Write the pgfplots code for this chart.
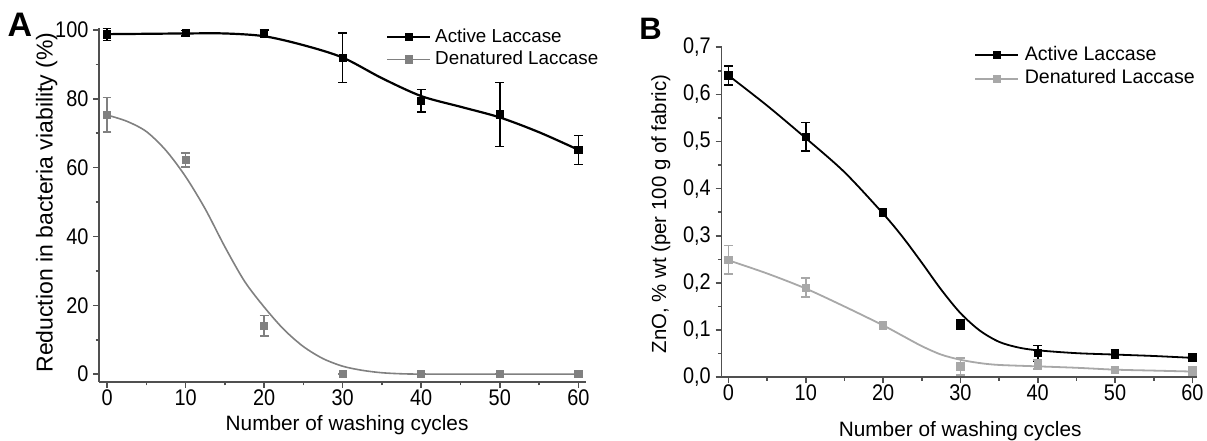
\documentclass[border=0pt]{standalone}
\usepackage{fontspec}
\setmainfont{Liberation Sans}
\newfontfamily\tickfont{Liberation Sans}[FakeStretch=0.88]
\usepackage{pgfplots}
\pgfplotsset{compat=1.18}

\definecolor{axgray}{HTML}{505050}
\definecolor{denA}{HTML}{808080}
\definecolor{denB}{HTML}{A8A8A8}

\pgfplotsset{
  washstyle/.style={
    scale only axis,
    axis lines=left,
    axis line style={-, draw=axgray, line width=0.9pt},
    tick style={draw=axgray, line width=0.8pt},
    tick align=outside,
    major tick length=3pt,
    minor tick length=1.8pt,
    xtick={0,10,20,30,40,50,60},
    minor x tick num=1,
    minor y tick num=1,
    tick label style={font=\tickfont\fontsize{11.3}{13}\selectfont, text=black},
    xticklabel style={inner sep=0.8pt},
    yticklabel style={inner sep=2.2pt},
    /pgf/number format/assume math mode=true,
    clip=false,
    legend cell align=left,
    legend image code/.code={\draw[mark repeat=2,mark phase=2,##1]
      plot coordinates {(0pt,0pt) (10.75pt,0pt) (21.5pt,0pt)};},
  },
  datapts/.style={only marks, mark=square*, mark size=1.8pt,
    error bars/.cd, y dir=both, y explicit,
    error bar style={line width=0.8pt},
    error mark options={rotate=90, mark size=2.2pt, line width=0.8pt}},
}

\begin{document}
\begin{tikzpicture}
\path[use as bounding box] (0,0) rectangle (603.5pt,220pt);

% ---------------- panel A
\begin{axis}[washstyle,
  at={(49.6pt,29.15pt)}, anchor=south west,
  width=243.5pt, height=176.7pt,
  xmin=-1.0, xmax=61.0, ymin=-2.2, ymax=100.5,
  ytick={0,20,40,60,80,100},
  xlabel={Number of washing cycles},
  xlabel style={at={(axis description cs:0.509,-0.1395)}, anchor=base,
    inner sep=0pt, font=\fontsize{10.4}{12}\selectfont},
  ylabel={Reduction in bacteria viability (\%)},
  ylabel style={at={(axis description cs:-0.0955,0.507)}, anchor=base,
    rotate=0, inner sep=0pt, font=\fontsize{11.5}{13}\selectfont},
  legend style={at={(axis description cs:0.589,1.004)}, anchor=north west,
    draw=none, fill=none, inner sep=0pt, row sep=1.1pt, column sep=2pt,
    font=\fontsize{9.4}{11}\selectfont,
    nodes={inner sep=0pt, text height=0.75em, text depth=0.25em}},
]
\addlegendimage{black, line width=0.9pt, mark=square*, mark size=1.6pt}
\addlegendentry{Active Laccase}
\addlegendimage{denA, line width=0.9pt, mark=square*, mark size=1.6pt}
\addlegendentry{Denatured Laccase}

% fitted curves
\addplot[forget plot, black, line width=1.1pt, smooth] coordinates {
  (0,98.8) (5,98.9) (10,99.0) (15,99.0) (20,98.2) (25,95.6) (30,92.0)
  (35,86.0) (40,80.8) (45,77.7) (50,74.6) (55,70.3) (60,65.2)};
\addplot[forget plot, denA, line width=0.8pt, smooth] coordinates {
  (0,75.3) (2.5,73.5) (5,70.5) (7.5,65.0) (10,57.4) (12.5,48.0) (15,37.0)
  (17.5,27.0) (20,19.5) (22.5,13.0) (25,8.0) (27.5,4.5) (30,2.3) (32.5,1.1)
  (35,0.4) (37.5,0.1) (40,0) (45,0) (50,0) (55,0) (60,0)};

% measured points
\addplot[forget plot, black, datapts] coordinates {
  (0,98.7) +- (0,1.8)
  (10,99.1) +- (0,0.8)
  (20,99.0) +- (0,1.0)
  (30,92.0) +- (0,7.2)
  (40,79.4) +- (0,3.3)
  (50,75.5) +- (0,9.3)
  (60,65.1) +- (0,4.2)};
\addplot[forget plot, denA, datapts] coordinates {
  (0,75.4) +- (0,5.0)
  (10,62.2) +- (0,2.0)
  (20,14.0) +- (0,3.0)
  (30,0) +- (0,0)
  (40,0) +- (0,0)
  (50,0) +- (0,0)
  (60,0) +- (0,0)};
\end{axis}

% ---------------- panel B
\begin{axis}[washstyle,
  at={(360.75pt,31.4pt)}, anchor=south west,
  width=237.75pt, height=165.25pt,
  xmin=-0.9, xmax=60.6, ymin=0, ymax=0.701,
  ytick={0,0.1,0.2,0.3,0.4,0.5,0.6,0.7},
  scaled y ticks=false,
  yticklabel style={/pgf/number format/fixed, /pgf/number format/fixed zerofill,
    /pgf/number format/precision=1, /pgf/number format/use comma},
  xlabel={Number of washing cycles},
  xlabel style={at={(axis description cs:0.502,-0.178)}, anchor=base,
    inner sep=0pt, font=\fontsize{10.4}{12}\selectfont},
  ylabel={ZnO, \% wt (per 100 g of fabric)},
  ylabel style={at={(axis description cs:-0.1167,0.494)}, anchor=base,
    rotate=0, inner sep=0pt, font=\fontsize{10.2}{12}\selectfont},
  legend style={at={(axis description cs:0.531,1.006)}, anchor=north west,
    draw=none, fill=none, inner sep=0pt, row sep=1.9pt, column sep=2.8pt,
    font=\fontsize{9.8}{11}\selectfont,
    nodes={inner sep=0pt, text height=0.75em, text depth=0.25em}},
]
\addlegendimage{black, line width=0.9pt, mark=square*, mark size=1.6pt}
\addlegendentry{Active Laccase}
\addlegendimage{denB, line width=0.9pt, mark=square*, mark size=1.6pt}
\addlegendentry{Denatured Laccase}

\addplot[forget plot, black, line width=0.9pt, smooth] coordinates {
  (0,0.640) (5,0.576) (10,0.507) (15,0.435) (20,0.347) (22.5,0.298)
  (25,0.243) (27.5,0.186) (30,0.136) (32.5,0.099) (35,0.075) (37.5,0.063)
  (40,0.057) (45,0.051) (50,0.048) (55,0.045) (60,0.041)};
\addplot[forget plot, denB, line width=0.9pt, smooth] coordinates {
  (0,0.248) (5,0.220) (10,0.188) (15,0.150) (20,0.110) (22.5,0.088)
  (25,0.066) (27.5,0.048) (30,0.037) (32.5,0.030) (35,0.026) (40,0.023)
  (45,0.020) (50,0.016) (55,0.014) (60,0.012)};

\addplot[forget plot, black, datapts] coordinates {
  (0,0.640) +- (0,0.020)
  (10,0.510) +- (0,0.030)
  (20,0.350) +- (0,0.008)
  (30,0.112) +- (0,0.010)
  (40,0.051) +- (0,0.016)
  (50,0.049) +- (0,0.009)
  (60,0.042) +- (0,0.008)};
\addplot[forget plot, denB, datapts] coordinates {
  (0,0.249) +- (0,0.030)
  (10,0.190) +- (0,0.020)
  (20,0.110) +- (0,0.008)
  (30,0.023) +- (0,0.018)
  (40,0.027) +- (0,0.010)
  (50,0.015) +- (0,0.007)
  (60,0.013) +- (0,0.008)};
\end{axis}

\node[anchor=base west, inner sep=0pt, font=\fontsize{17}{20}\selectfont\bfseries]
  at (3.65pt,201.65pt) {A};
\node[anchor=base west, inner sep=0pt, font=\fontsize{15.5}{18}\selectfont\bfseries]
  at (319.5pt,200pt) {B};
\end{tikzpicture}
\end{document}
